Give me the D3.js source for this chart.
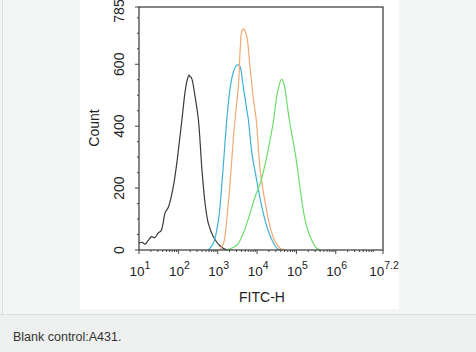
<!DOCTYPE html>
<html>
<head>
<meta charset="utf-8">
<script src="https://cdn.jsdelivr.net/npm/d3@7"></script>
<style>
  html, body { margin: 0; padding: 0; background: #f4f5f5; }
  svg { display: block; font-family: "Liberation Sans", Arial, sans-serif; }
</style>
</head>
<body>
<svg id="chart" width="476" height="352"></svg>
<script>
// Flow cytometry overlay: FITC-H histogram, four samples.
// x values are log10(FITC-H), y values are counts.
var blackLog = [1.00, 1.08, 1.15, 1.23, 1.32, 1.40, 1.49, 1.56, 1.62, 1.66, 1.75, 1.87, 1.96, 2.04, 2.09, 2.17, 2.23, 2.27, 2.30, 2.33, 2.36, 2.42, 2.51, 2.60, 2.68, 2.76, 2.89, 3.06, 3.23];
var blackCnt = [22, 25, 19, 30, 43, 40, 55, 62, 92, 119, 140, 204, 280, 366, 420, 510, 552, 565, 560, 557, 545, 500, 420, 258, 150, 87, 43, 13, 0];

var blueLog = [2.76, 2.89, 3.02, 3.10, 3.19, 3.23, 3.32, 3.40, 3.47, 3.53, 3.57, 3.65, 3.74, 3.78, 3.87, 3.99, 4.12, 4.25, 4.38, 4.50, 4.59];
var blueCnt = [0, 22, 97, 204, 355, 420, 527, 576, 595, 598, 592, 527, 452, 420, 312, 226, 140, 75, 32, 6, 0];

var orangeLog = [3.06, 3.15, 3.23, 3.32, 3.40, 3.44, 3.53, 3.57, 3.61, 3.65, 3.68, 3.74, 3.82, 3.91, 3.98, 4.08, 4.21, 4.33, 4.46, 4.59, 4.72];
var orangeCnt = [0, 22, 97, 226, 366, 420, 539, 646, 705, 715, 711, 689, 592, 484, 420, 258, 150, 75, 27, 5, 0];

var greenLog = [3.23, 3.49, 3.65, 3.82, 3.95, 4.08, 4.21, 4.33, 4.42, 4.50, 4.59, 4.63, 4.69, 4.76, 4.82, 4.97, 5.10, 5.22, 5.35, 5.52, 5.61];
var greenCnt = [0, 16, 54, 118, 172, 215, 280, 355, 420, 495, 544, 552, 533, 474, 420, 312, 194, 97, 43, 5, 0];

var seriesColors = ['#3a3a3a', '#3fb1d9', '#f5a870', '#6edc6a'];

var xMajor = [1, 2, 3, 4, 5, 6, 7.2];
var xMajorLabels = ['1', '2', '3', '4', '5', '6', '7.2'];
var yMajor = [0, 200, 400, 600, 785];

var X_MIN = 1, X_MAX = 7.2, Y_MAX = 785;
var caption = 'Blank control:A431.';

(function () {
    var svg = d3.select('#chart');

    // page chrome: grey page, white figure panel, caption strip
    svg.append('rect').attr('x', 0).attr('y', 0).attr('width', 476).attr('height', 314).attr('fill', '#f4f5f5');
    svg.append('line').attr('x1', 2.5).attr('x2', 2.5).attr('y1', 0).attr('y2', 314)
        .attr('stroke', '#dcdddd');
    svg.append('rect').attr('x', 80).attr('y', 0).attr('width', 319).attr('height', 309).attr('fill', '#ffffff');
    svg.append('rect').attr('x', 0).attr('y', 314).attr('width', 476).attr('height', 38).attr('fill', '#eeefef');
    svg.append('line').attr('x1', 0).attr('x2', 476).attr('y1', 314.5).attr('y2', 314.5)
        .attr('stroke', '#dcdddd');
    svg.append('text').attr('x', 13).attr('y', 341)
        .attr('font-size', 12.5).attr('fill', '#333')
        .text(caption);

    var left = 139, right = 383, top = 7, bottom = 250;
    var x = d3.scaleLog().domain([Math.pow(10, X_MIN), Math.pow(10, X_MAX)]).range([left, right]);
    var y = d3.scaleLinear().domain([0, Y_MAX]).range([bottom, top]);

    var g = svg.append('g');

    // curves
    var line = d3.line()
        .x(function (d) { return x(Math.pow(10, d[0])); })
        .y(function (d) { return y(d[1]); })
        .curve(d3.curveCatmullRom);
    var series = [[blackLog, blackCnt], [blueLog, blueCnt], [orangeLog, orangeCnt], [greenLog, greenCnt]];
    series.forEach(function (s, i) {
        var pts = s[0].map(function (v, k) { return [v, s[1][k]]; });
        g.append('path').datum(pts)
            .attr('d', line)
            .attr('fill', 'none')
            .attr('stroke', seriesColors[i])
            .attr('stroke-width', 1.2);
    });

    // frame
    g.append('rect').attr('x', left).attr('y', top)
        .attr('width', right - left).attr('height', bottom - top)
        .attr('fill', 'none').attr('stroke', '#444').attr('stroke-width', 1.3);

    // y axis ticks
    var yMinor = d3.range(50, Y_MAX, 50).filter(function (v) { return v % 200 !== 0; });
    yMinor.forEach(function (v) {
        g.append('line').attr('x1', left - 2).attr('x2', left)
            .attr('y1', y(v)).attr('y2', y(v)).attr('stroke', '#444');
    });
    yMajor.forEach(function (v) {
        g.append('line').attr('x1', left - 4).attr('x2', left)
            .attr('y1', y(v)).attr('y2', y(v)).attr('stroke', '#444');
        // top label sits a little lower so it stays inside the page
        var cy = v === Y_MAX ? y(v) + 4 : y(v);
        g.append('text')
            .attr('transform', 'translate(' + 124 + ',' + cy + ') rotate(-90)')
            .attr('text-anchor', 'middle')
            .attr('font-size', 14).attr('fill', '#222')
            .text(v);
    });

    // x axis ticks: decades and 2..9 minors
    for (var d = X_MIN; d < 7.2; d++) {
        for (var m = 2; m <= 9; m++) {
            var v = m * Math.pow(10, d);
            if (v > Math.pow(10, X_MAX)) break;
            g.append('line').attr('x1', x(v)).attr('x2', x(v))
                .attr('y1', bottom).attr('y2', bottom + 2).attr('stroke', '#444');
        }
    }
    xMajor.forEach(function (e, i) {
        var px = x(Math.pow(10, e));
        g.append('line').attr('x1', px).attr('x2', px)
            .attr('y1', bottom).attr('y2', bottom + 4).attr('stroke', '#444');
        var t = g.append('text')
            .attr('x', px + 1).attr('y', 276)
            .attr('text-anchor', 'middle')
            .attr('font-size', 13.5).attr('fill', '#222');
        t.append('tspan').text('10');
        t.append('tspan').attr('dy', -7).attr('font-size', 10.5).text(xMajorLabels[i]);
    });

    g.append('text').attr('x', 262).attr('y', 302)
        .attr('text-anchor', 'middle').attr('font-size', 14).attr('fill', '#222')
        .text('FITC-H');
    g.append('text')
        .attr('transform', 'translate(99,128) rotate(-90)')
        .attr('text-anchor', 'middle').attr('font-size', 14).attr('fill', '#222')
        .text('Count');
})();
</script>
</body>
</html>
